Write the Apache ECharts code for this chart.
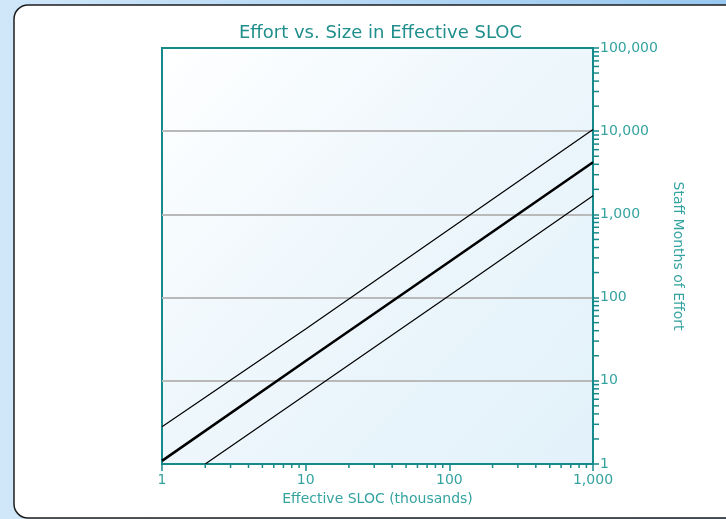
<!DOCTYPE html>
<html>
<head>
<meta charset="utf-8">
<script src="https://cdn.jsdelivr.net/npm/echarts@6/dist/echarts.min.js"></script>
<style>
html,body{margin:0;padding:0;}
#chart{width:726px;height:519px;}
</style>
</head>
<body>
<div id="chart"></div>
<script>
// ---- data ----
const titleText = 'Effort vs. Size in Effective SLOC';
const xName = 'Effective SLOC (thousands)';
const yName = 'Staff Months of Effort';
const sizeUpper = [1, 10, 100, 1000];
const effortUpper = [2.8, 42, 665, 10500];
const sizeNominal = [1, 10, 100, 1000];
const effortNominal = [1.09, 17.3, 270, 4230];
const sizeLower = [2, 10, 100, 1000];
const effortLower = [1.0, 6.8, 106, 1680];
const xTickLabels = ['1', '10', '100', '1,000'];
const yTickLabels = ['1', '10', '100', '1,000', '10,000', '100,000'];

const teal = '#16898a';
const labelTeal = '#34a3a0';
const font = 'DejaVu Sans';

// minor tick positions (2..9 within each decade)
function minorTicks(minDec, maxDec) {
  const out = [];
  for (let d = minDec; d < maxDec; d++) {
    for (let k = 2; k <= 9; k++) out.push(k * Math.pow(10, d));
  }
  return out;
}
const xMinor = minorTicks(0, 3);
const yMinor = minorTicks(0, 5);

const pairs = (xs, ys) => xs.map((x, i) => [x, ys[i]]);

const chart = echarts.init(document.getElementById('chart'), null, {renderer: 'canvas'});
chart.setOption({
  animation: false,
  backgroundColor: new echarts.graphic.LinearGradient(0, 0, 1, 0, [
    {offset: 0, color: '#d0e7f9'},
    {offset: 1, color: '#98c8f0'}
  ]),
  graphic: [{
    type: 'rect', z: -100, silent: true,
    shape: {x: 14, y: 5, width: 760, height: 513, r: 14},
    style: {fill: '#ffffff', stroke: '#1e1e1e', lineWidth: 1.5}
  }],
  title: {
    text: titleText, left: 234, top: 19,
    textStyle: {color: '#1f8f8c', fontFamily: font, fontSize: 18, fontWeight: 'normal'}
  },
  grid: {
    left: 162, right: 133, top: 48, bottom: 55,
    show: true, borderColor: teal, borderWidth: 2,
    backgroundColor: new echarts.graphic.LinearGradient(0, 0, 1, 1, [
      {offset: 0, color: '#ffffff'},
      {offset: 0.45, color: '#eef7fc'},
      {offset: 1, color: '#e2f1fa'}
    ])
  },
  xAxis: {
    type: 'log', logBase: 10, min: 1, max: 1000,
    name: xName, nameLocation: 'middle', nameGap: 26,
    nameTextStyle: {color: labelTeal, fontFamily: font, fontSize: 14},
    axisLine: {lineStyle: {color: teal, width: 2}},
    axisTick: {show: true, length: 7, lineStyle: {color: teal, width: 1.5}},
    axisLabel: {color: labelTeal, fontFamily: font, fontSize: 14, margin: 9,
      formatter: v => xTickLabels[Math.round(Math.log10(v))]},
    splitLine: {show: false}
  },
  yAxis: {
    type: 'log', logBase: 10, min: 1, max: 100000, position: 'right',
    name: yName, nameLocation: 'middle', nameGap: 78, nameRotate: -90,
    nameTextStyle: {color: labelTeal, fontFamily: font, fontSize: 14},
    axisLine: {show: true, lineStyle: {color: teal, width: 2}},
    axisTick: {show: true, length: 6, lineStyle: {color: teal, width: 1.5}},
    axisLabel: {color: labelTeal, fontFamily: font, fontSize: 14, margin: 7,
      formatter: v => yTickLabels[Math.round(Math.log10(v))]},
    splitLine: {show: true, showMinLine: false, showMaxLine: false,
      lineStyle: {color: '#b9b9b9', width: 2}}
  },
  series: [
    {type: 'line', data: pairs(sizeUpper, effortUpper), showSymbol: false, symbol: 'none',
     lineStyle: {color: '#000', width: 1.2}, z: 5},
    {type: 'line', data: pairs(sizeNominal, effortNominal), showSymbol: false, symbol: 'none',
     lineStyle: {color: '#000', width: 2.6}, z: 5},
    {type: 'line', data: pairs(sizeLower, effortLower), showSymbol: false, symbol: 'none',
     lineStyle: {color: '#000', width: 1.2}, z: 5},
    {type: 'custom', silent: true, z: 6, clip: false,
     data: xMinor.map(v => [v, 1]),
     renderItem: (params, api) => {
       const p = api.coord([api.value(0), 1]);
       return {type: 'line', shape: {x1: p[0], y1: p[1], x2: p[0], y2: p[1] + 4},
         style: {stroke: teal, lineWidth: 1.5}};
     }},
    {type: 'custom', silent: true, z: 6, clip: false,
     data: yMinor.map(v => [1000, v]),
     renderItem: (params, api) => {
       const p = api.coord([1000, api.value(1)]);
       return {type: 'line', shape: {x1: p[0], y1: p[1], x2: p[0] + 6, y2: p[1]},
         style: {stroke: teal, lineWidth: 1.5}};
     }}
  ]
});
</script>
</body>
</html>
